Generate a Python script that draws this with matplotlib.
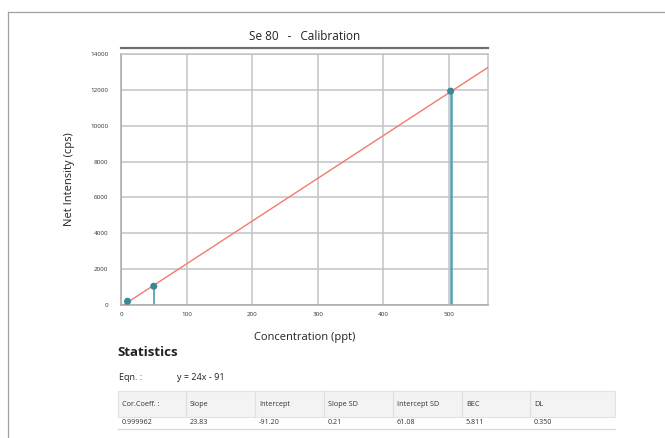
#!/usr/bin/env python3
"""Se 80 calibration curve with statistics table."""
import matplotlib
matplotlib.use("Agg")
import matplotlib.pyplot as plt
import numpy as np
from matplotlib.patches import Rectangle
from matplotlib.lines import Line2D

plt.rcParams["font.family"] = ["Open Sans", "DejaVu Sans"]

# --- data ---
conc = [10, 50, 503]
intensity = [207, 1047, 11928]
slope = 23.83
intercept = -91.20
x_max = 560

stat_headers = ["Cor.Coeff. :", "Slope", "Intercept", "Slope SD",
                "Intercept SD", "BEC", "DL"]
stat_values = ["0.999962", "23.83", "-91.20", "0.21", "61.08", "5.811", "0.350"]
equation = "y = 24x - 91"

TEAL = "#3a8797"
STEM = "#5da4b3"
FIT = "#f27b6b"
GRID = "#c2c3c8"

W, H = 665, 438
fig = plt.figure(figsize=(W / 100, H / 100), dpi=100)


def fx(px):
    return px / W


def fy(py):
    return 1 - py / H


# outer frame (left and top edges visible)
fig.add_artist(Line2D([fx(8), fx(8)], [fy(12), 0], color="#a0a0a0", lw=0.9))
fig.add_artist(Line2D([fx(8), 1], [fy(12), fy(12)], color="#a0a0a0", lw=0.9))

ax = fig.add_axes([fx(121), fy(305), fx(488) - fx(121), fy(54) - fy(305)])
ax.set_xlim(0, x_max)
ax.set_ylim(0, 14000)
ax.set_xticks(np.arange(0, 501, 100))
ax.set_yticks(np.arange(0, 14001, 2000))
ax.tick_params(axis="y", labelsize=4.5, length=0, pad=9, colors="#333333")
ax.tick_params(axis="x", labelsize=4.5, length=0, pad=5, colors="#333333")
ax.grid(True, color=GRID, lw=1.1)
ax.set_axisbelow(True)
for side, sp in ax.spines.items():
    sp.set_color(GRID)
    sp.set_linewidth(1.1)
ax.spines["left"].set_color("#a9aaaf")
ax.spines["bottom"].set_color("#a9aaaf")

# fitted line
x0 = -intercept / slope
xs = np.array([x0, x_max])
ax.plot(xs, slope * xs + intercept, color=FIT, lw=1.0, zorder=3, clip_on=True)

# stems and points
for c, v in zip(conc, intensity):
    lw = 1.9 if v > 5000 else 1.3
    ax.plot([c, c], [0, v], color=STEM, lw=lw, zorder=2)
ax.scatter(conc, intensity, s=26, color=TEAL, zorder=4, edgecolors="none")

ax.set_xlabel("Concentration (ppt)", fontsize=8, labelpad=11, color="#222222")
ax.set_ylabel("Net Intensity (cps)", fontsize=8, labelpad=11, color="#222222")

# title with rule beneath
fig.text(fx(305), fy(37), "Se 80   -   Calibration", ha="center", va="center",
         fontsize=8.5, color="#222222")
fig.add_artist(Line2D([fx(121), fx(488)], [fy(47.5), fy(47.5)],
                      color="#6f6f6f", lw=1.6))

# statistics block
fig.text(fx(117), fy(352), "Statistics", ha="left", va="center",
         fontsize=9.5, fontweight="bold", color="#222222")
fig.text(fx(119), fy(377), "Eqn. :", ha="left", va="center",
         fontsize=6.5, color="#222222")
fig.text(fx(177), fy(377), equation, ha="left", va="center",
         fontsize=6.5, color="#222222")

col_edges = [118, 186, 255, 324, 393, 462, 530, 615]
row_top, row_mid, row_bot = 391, 417, 429
fig.add_artist(Rectangle((fx(118), fy(row_mid)), fx(615) - fx(118),
                         fy(row_top) - fy(row_mid), facecolor="#f3f3f4",
                         edgecolor="#e2e2e4", lw=0.8))
fig.add_artist(Line2D([fx(118), fx(615)], [fy(row_bot), fy(row_bot)],
                      color="#d6d6d8", lw=0.8))
for xe in col_edges[1:-1]:
    fig.add_artist(Line2D([fx(xe), fx(xe)], [fy(row_top), fy(row_mid)],
                          color="#e0e0e2", lw=0.8))
for i, (h, v) in enumerate(zip(stat_headers, stat_values)):
    xl = fx(col_edges[i] + 4)
    fig.text(xl, fy(405), h, ha="left", va="center", fontsize=5.2, color="#333333")
    fig.text(xl, fy(423), v, ha="left", va="center", fontsize=5.2, color="#333333")

fig.savefig("out.png", dpi=100)
